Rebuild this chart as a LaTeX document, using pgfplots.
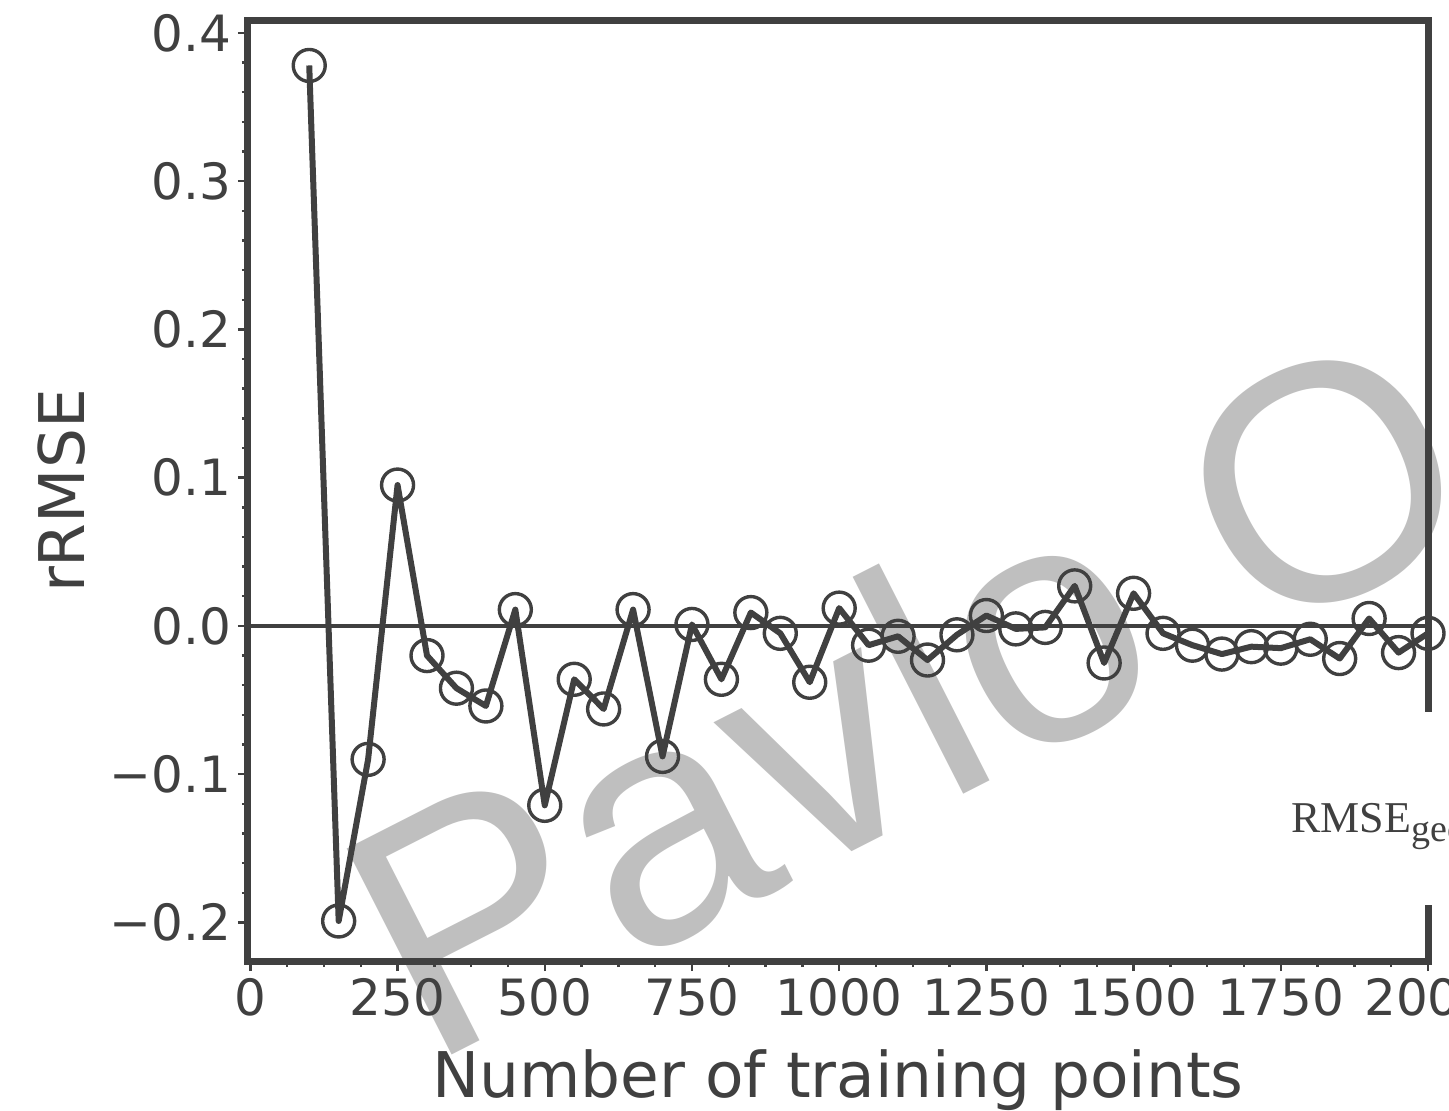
\documentclass[border=0pt]{standalone}
\usepackage{pgfplots}
\pgfplotsset{compat=1.18}
\usepackage{fontspec}
\setmainfont{DejaVu Sans}
\newfontfamily\wmfont{Liberation Sans}
\newfontfamily\seriffont{Liberation Serif}
\definecolor{dk}{RGB}{64,64,64}
\definecolor{wm}{RGB}{191,191,191}
\begin{document}
\begin{tikzpicture}
\path[use as bounding box] (-124bp,-75bp) rectangle (600.5bp,480.5bp);
\begin{scope}
\clip (-124bp,-75bp) rectangle (600.5bp,480.5bp);
\node[anchor=base west, inner sep=0pt, rotate=27, text=wm, font=\wmfont\fontsize{168bp}{168bp}\selectfont] at (89.5bp,-53.5bp) {Pavlo O};
\begin{axis}[
  at={(0bp,0bp)}, anchor=south west,
  scale only axis, width=590bp, height=470bp,
  xmin=-4, xmax=2000, ymin=-0.226, ymax=0.408,
  clip mode=individual,
  axis line style={draw=dk, line width=3.5bp},
  every tick/.style={draw=dk, line width=1.2bp},
  major tick length=5bp, minor tick length=3bp,
  tick align=outside, tick pos=left,
  xtick={0,250,500,750,1000,1250,1500,1750,2000},
  xticklabels={0,250,500,750,1000,1250,1500,1750,2000},
  ytick={-0.2,-0.1,0,0.1,0.2,0.3,0.4},
  yticklabels={−0.2,−0.1,0.0,0.1,0.2,0.3,0.4},
  minor x tick num=3, minor y tick num=4,
  ticklabel style={font=\fontsize{25bp}{25bp}\selectfont, text=dk},
  xlabel={Number of training points}, ylabel={rRMSE},
  xlabel style={at={(axis description cs:0.5,0)}, anchor=base, yshift=-68bp, font=\fontsize{31.5bp}{31.5bp}\selectfont, text=dk},
  ylabel style={at={(axis description cs:0,0.5)}, anchor=base, yshift=81.5bp, font=\fontsize{31.5bp}{31.5bp}\selectfont, text=dk},
]
\addplot[dk, line width=2bp, forget plot] coordinates {(-4,0) (2000,0)};
\addplot[dk, line width=3bp, line join=round, mark=o, mark size=8bp, mark options={line width=1.7bp, solid}] coordinates {
(100,0.378) (150,-0.199) (200,-0.090) (250,0.095) (300,-0.020) (350,-0.042)
(400,-0.054) (450,0.011) (500,-0.121) (550,-0.036) (600,-0.056) (650,0.011)
(700,-0.088) (750,0.001) (800,-0.036) (850,0.009) (900,-0.005) (950,-0.038)
(1000,0.012) (1050,-0.013) (1100,-0.007) (1150,-0.023) (1200,-0.006) (1250,0.007)
(1300,-0.002) (1350,-0.001) (1400,0.027) (1450,-0.025) (1500,0.022) (1550,-0.005)
(1600,-0.013) (1650,-0.019) (1700,-0.014) (1750,-0.015) (1800,-0.009) (1850,-0.022)
(1900,0.005) (1950,-0.018) (2000,-0.005)
};
\end{axis}
\fill[white] (584bp,28bp) rectangle (610bp,124.5bp);
\node[anchor=base west, inner sep=0pt, text=dk, font=\seriffont\fontsize{22bp}{22bp}\selectfont] at (521.5bp,64bp) {RMSE\raisebox{-4.5bp}{\fontsize{19bp}{19bp}\selectfont geo}};
\end{scope}
\end{tikzpicture}
\end{document}
